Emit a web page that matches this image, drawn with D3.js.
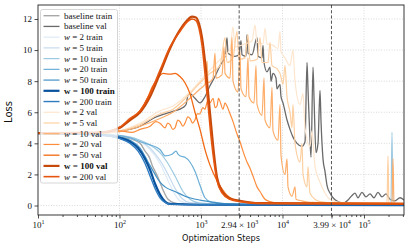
<!DOCTYPE html>
<html>
<head>
<meta charset="utf-8">
<script src="https://d3js.org/d3.v7.min.js"></script>
<style>
  body { margin: 0; background: #fff; }
  .tick text { font-family: "Liberation Serif", serif; font-size: 9px; fill: #111; }
  .tick line { stroke: #222; stroke-width: 0.8; }
  .domain { display: none; }
  .grid { stroke: #cfcfcf; stroke-width: 0.8; stroke-dasharray: 1,1.6; }
  .marker { stroke: #444; stroke-width: 0.9; stroke-dasharray: 3.2,2; }
  .series { fill: none; stroke-linejoin: round; stroke-linecap: round; }
  .legend text { font-family: "Liberation Serif", serif; font-size: 9px; fill: #111; }
  .axis-label { font-family: "DejaVu Sans", sans-serif; fill: #111; }
</style>
</head>
<body>
<script>
// [optimization step, loss] pairs
var baselineTrain = [[10,4.65],[58,4.6],[101,4.45],[135,4.3],[179,4.0],[206,3.5],[237,3.0],[251,2.6],[273,2.2],[297,1.8],[342,1.0],[394,0.4],[480,0.15],[636,0.08],[1000,0.06],[3000,0.05],[20000,0.04],[309600,0.04]];
var baselineVal = [[10,4.65],[58,4.65],[101,4.8],[179,5.1],[258,5.6],[362,5.9],[480,6.1],[601,6.3],[655,6.5],[693,7.1],[733,7.2],[843,6.9],[972,6.6],[1119,7.0],[1289,7.7],[1485,8.3],[1711,9.0],[1970,9.6],[2084,10.8],[2145,9.8],[2614,9.6],[2925,9.7],[3096,10.6],[3184,9.7],[3565,9.6],[3668,11.0],[3773,9.8],[4225,9.7],[4866,10.8],[5004,9.6],[5604,9.5],[5765,10.3],[5929,9.2],[6454,8.6],[7025,8.9],[7227,8.0],[7644,8.5],[8318,8.2],[8560,7.5],[9318,7.8],[9588,7.0],[10140,6.6],[11360,5.5],[12360,4.9],[13450,4.4],[15060,4.0],[17350,3.8],[18890,4.1],[19980,9.2],[20550,7.5],[21750,4.2],[22387,3.1],[23670,8.9],[24340,7.0],[25760,3.4],[27260,4.0],[28850,7.4],[29650,5.5],[31400,3.0],[33220,2.2],[35160,1.3],[38260,0.8],[41660,0.5],[47970,0.25],[55200,0.15],[63680,0.35],[71260,0.65],[77560,0.8],[84400,0.5],[94500,0.85],[105800,0.55],[118500,0.75],[132700,0.5],[148500,0.85],[166300,0.55],[186200,0.75],[208400,0.4],[240100,0.3],[276600,0.5],[309600,0.35]];

var w2Train = [[10,4.65],[58,4.6],[101,4.5],[135,4.35],[179,4.1],[237,3.6],[314,2.7],[394,1.6],[480,0.7],[552,0.3],[732,0.12],[1500,0.07],[309600,0.05]];
var w5Train = [[10,4.65],[58,4.6],[101,4.5],[135,4.4],[179,4.15],[237,3.7],[314,2.9],[394,2.0],[480,1.1],[585,0.45],[732,0.18],[1500,0.08],[309600,0.05]];
var w10Train = [[10,4.65],[58,4.6],[101,4.5],[135,4.4],[179,4.2],[237,3.9],[314,3.4],[383,2.8],[480,1.9],[601,0.9],[732,0.4],[972,0.15],[2000,0.08],[214000,0.06],[220600,4.7],[227000,0.06],[309600,0.05]];
var w20Train = [[10,4.65],[58,4.6],[101,4.5],[135,4.35],[179,4.1],[237,3.9],[314,3.6],[362,3.2],[441,3.3],[494,3.5],[522,3.3],[552,3.2],[636,3.1],[732,2.8],[843,2.2],[972,1.3],[1119,0.5],[1350,0.2],[2000,0.1],[309600,0.06]];
var w50Train = [[10,4.65],[58,4.55],[101,4.4],[135,4.2],[179,3.7],[224,2.8],[273,2.0],[314,1.5],[362,1.2],[480,0.9],[636,0.6],[972,0.35],[1485,0.2],[2269,0.1],[5000,0.06],[309600,0.05]];
var w100Train = [[10,4.65],[58,4.55],[101,4.35],[135,4.1],[169,3.7],[206,3.0],[237,2.3],[273,1.4],[314,0.7],[362,0.25],[417,0.1],[972,0.05],[309600,0.03]];
var w200Train = [[10,4.65],[58,4.55],[101,4.3],[135,4.0],[169,3.5],[206,2.7],[237,1.9],[273,1.1],[314,0.5],[362,0.2],[417,0.09],[1000,0.05],[309600,0.04]];

var w2Val = [[10,4.65],[58,4.65],[101,4.8],[179,5.3],[314,6.1],[453,6.4],[733,7.3],[972,8.0],[1289,8.7],[1711,9.4],[2269,10.0],[2470,11.5],[2614,10.2],[3466,10.4],[4225,10.6],[4599,11.6],[4866,10.5],[5765,10.4],[6100,11.4],[6454,10.4],[7644,10.3],[8806,10.1],[9318,11.2],[9590,9.9],[10730,9.5],[12360,9.0],[13450,10.0],[14240,8.0],[16400,6.5],[17850,7.2],[18890,5.0],[21750,3.8],[23010,4.8],[25050,2.5],[28850,1.5],[33220,0.8],[38260,0.4],[50760,0.2],[309600,0.12]];
var w5Val = [[10,4.65],[58,4.65],[101,4.8],[179,5.2],[314,5.9],[453,6.2],[733,7.2],[972,7.9],[1289,8.5],[1711,9.0],[1970,10.8],[2084,9.2],[2470,9.5],[2765,11.2],[2925,9.4],[3466,9.5],[3773,11.0],[3992,9.3],[4866,9.4],[5295,10.8],[5604,9.2],[6639,9.2],[7025,10.5],[7432,9.0],[8560,8.8],[9318,8.5],[10140,7.8],[10730,9.0],[11360,7.0],[12360,6.0],[13080,5.0],[13450,6.5],[14240,4.0],[16400,2.8],[17350,4.0],[17850,2.0],[19980,1.2],[20550,2.5],[21750,0.8],[25050,0.4],[28850,0.25],[50000,0.15],[191500,0.15],[197000,3.2],[202000,0.15],[309600,0.12]];
var w10Val = [[10,4.65],[58,4.65],[101,4.75],[179,5.1],[314,5.6],[453,6.0],[733,6.9],[972,7.5],[1119,7.8],[1185,9.3],[1219,7.9],[1404,8.2],[1485,9.8],[1528,8.2],[1810,8.4],[1916,10.2],[1970,8.5],[2269,8.2],[2402,10.8],[2470,8.0],[2844,7.3],[3009,9.9],[3096,7.5],[3566,7.0],[3773,9.5],[3882,7.0],[4470,6.6],[4729,9.0],[4866,6.5],[5604,5.8],[5930,8.2],[6100,5.5],[7025,5.0],[7432,7.6],[7644,4.8],[8806,4.2],[9318,6.5],[9590,3.2],[10730,2.0],[11360,3.0],[11680,1.2],[13080,0.6],[14240,1.2],[14640,0.4],[17350,0.3],[21750,0.2],[100000,0.15],[220600,0.15],[226900,3.0],[233300,0.15],[309600,0.12]];
var w20Val = [[10,4.65],[58,4.65],[101,4.8],[140,4.7],[179,4.9],[237,5.1],[280,5.4],[314,5.3],[362,5.0],[390,5.3],[417,5.2],[450,4.9],[480,5.0],[520,5.5],[552,5.4],[600,5.1],[636,5.3],[690,5.7],[733,5.6],[790,5.3],[843,5.5],[900,5.9],[972,5.9],[1050,6.3],[1119,6.2],[1200,6.7],[1289,6.6],[1404,6.9],[1490,6.3],[1572,6.4],[1640,6.9],[1711,6.7],[1862,6.2],[1970,6.6],[2084,6.4],[2269,5.9],[2470,5.4],[2765,4.6],[3009,4.1],[3275,3.5],[3668,2.8],[3992,2.4],[4345,1.9],[4866,1.2],[5296,0.9],[6100,0.4],[7025,0.25],[9318,0.15],[309600,0.12]];
var w50Val = [[10,4.65],[58,4.7],[101,5.0],[135,5.5],[179,6.1],[224,7.0],[251,7.6],[297,8.2],[342,8.5],[417,8.45],[480,8.5],[552,8.3],[636,7.9],[732,7.2],[843,6.0],[972,4.9],[1119,3.6],[1289,2.6],[1572,1.6],[1970,0.8],[2614,0.35],[4000,0.2],[10000,0.12],[309600,0.1]];
var w100Val = [[10,4.65],[58,4.7],[101,5.0],[135,5.5],[179,6.0],[237,7.0],[314,8.5],[417,10.1],[552,11.3],[673,11.9],[775,12.15],[868,12.1],[945,11.7],[1030,10.8],[1119,9.3],[1220,7.3],[1330,5.2],[1445,3.3],[1572,1.8],[1820,0.9],[2269,0.45],[3009,0.3],[5296,0.15],[309600,0.1]];
var w200Val = [[10,4.65],[58,4.7],[101,5.05],[135,5.6],[179,6.1],[237,7.2],[314,8.7],[417,10.2],[552,11.2],[673,11.8],[775,12.0],[868,11.9],[945,11.4],[1030,10.3],[1119,8.5],[1220,6.5],[1330,4.4],[1445,2.8],[1572,1.6],[1820,0.8],[2269,0.4],[3009,0.25],[5296,0.14],[309600,0.12]];

var yTicks = [0, 2, 4, 6, 8, 10, 12];
var xMajor = [10, 100, 1000, 10000, 100000];
var xMarked = [2940, 39900];

var series = [
  {name: "baseline train", data: baselineTrain, color: "#a8a8a8", width: 1.4},
  {name: "baseline val", data: baselineVal, color: "#6a6a6a", width: 1.3},
  {w: "2", kind: "train", data: w2Train, color: "#deebf7", width: 1.2},
  {w: "5", kind: "train", data: w5Train, color: "#c6dbef", width: 1.2},
  {w: "10", kind: "train", data: w10Train, color: "#9ecae1", width: 1.2},
  {w: "20", kind: "train", data: w20Train, color: "#6baed6", width: 1.2},
  {w: "50", kind: "train", data: w50Train, color: "#4292c6", width: 1.2},
  {w: "100", kind: "train", data: w100Train, color: "#08519c", width: 2.2, bold: true},
  {w: "200", kind: "train", data: w200Train, color: "#2f7bbf", width: 1.4},
  {w: "2", kind: "val", data: w2Val, color: "#fee6ce", width: 1.2},
  {w: "5", kind: "val", data: w5Val, color: "#fdd0a2", width: 1.2},
  {w: "10", kind: "val", data: w10Val, color: "#fdae6b", width: 1.2},
  {w: "20", kind: "val", data: w20Val, color: "#fd8d3c", width: 1.2},
  {w: "50", kind: "val", data: w50Val, color: "#f16913", width: 1.3},
  {w: "100", kind: "val", data: w100Val, color: "#c4490b", width: 2.2, bold: true},
  {w: "200", kind: "val", data: w200Val, color: "#e6550d", width: 1.6}
];

var W = 411, H = 250;
var plotL = 38, plotR = 404, plotT = 5, plotB = 215;

var x = d3.scaleLog().domain([10, 309600]).range([plotL, plotR]);
var y = d3.scaleLinear().domain([-0.61, 12.9]).range([plotB, plotT]);

var svg = d3.select("body").append("svg")
  .attr("width", W).attr("height", H);

svg.append("defs").append("clipPath").attr("id", "plot")
  .append("rect").attr("x", plotL).attr("y", plotT)
  .attr("width", plotR - plotL).attr("height", plotB - plotT);

// grid
svg.append("g").selectAll("line").data(yTicks).join("line")
  .attr("class", "grid")
  .attr("x1", plotL).attr("x2", plotR)
  .attr("y1", d => y(d)).attr("y2", d => y(d));
svg.append("g").selectAll("line").data(xMajor.slice(1)).join("line")
  .attr("class", "grid")
  .attr("x1", d => x(d)).attr("x2", d => x(d))
  .attr("y1", plotT).attr("y2", plotB);

// lines
var line = d3.line()
  .x(d => x(d[0]))
  .y(d => y(d[1]))
  .curve(d3.curveMonotoneX);

svg.append("g").attr("clip-path", "url(#plot)")
  .selectAll("path").data(series).join("path")
  .attr("class", "series")
  .attr("stroke", d => d.color)
  .attr("stroke-width", d => d.width)
  .attr("d", d => line(d.data));

// marked steps
svg.append("g").selectAll("line").data(xMarked).join("line")
  .attr("class", "marker")
  .attr("x1", d => x(d)).attr("x2", d => x(d))
  .attr("y1", plotT).attr("y2", plotB);

// frame
svg.append("rect")
  .attr("x", plotL).attr("y", plotT)
  .attr("width", plotR - plotL).attr("height", plotB - plotT)
  .attr("fill", "none").attr("stroke", "#222").attr("stroke-width", 0.9);

// x axis: minor ticks
var minor = [];
for (var e = 1; e <= 5; e++) {
  for (var m = 2; m <= 9; m++) {
    var v = m * Math.pow(10, e);
    if (v < 309600) minor.push(v);
  }
}
svg.append("g").attr("transform", "translate(0," + plotB + ")")
  .call(d3.axisBottom(x).tickValues(minor).tickSize(2).tickFormat(""));

var xAxis = svg.append("g").attr("transform", "translate(0," + plotB + ")")
  .call(d3.axisBottom(x).tickValues(xMajor.concat(xMarked)).tickSize(3.5).tickPadding(3).tickFormat(""));

xAxis.selectAll(".tick text").each(function (d) {
  var t = d3.select(this);
  var exp = Math.floor(Math.log10(d) + 1e-9);
  var mant = d / Math.pow(10, exp);
  if (Math.abs(mant - 1) > 1e-6) {
    t.append("tspan").text(mant.toFixed(2) + " \u00d7 10");
  } else {
    t.append("tspan").text("10");
  }
  t.append("tspan").attr("font-size", "6px").attr("dy", "-3.5").text(exp);
});

// y axis
svg.append("g").attr("transform", "translate(" + plotL + ",0)")
  .call(d3.axisLeft(y).tickValues(yTicks).tickSize(3.5).tickPadding(2.5));

// axis labels
svg.append("text").attr("class", "axis-label")
  .attr("x", 221).attr("y", 241)
  .attr("text-anchor", "middle").attr("font-size", "8.2px")
  .text("Optimization Steps");
svg.append("text").attr("class", "axis-label")
  .attr("transform", "translate(12," + 112 + ") rotate(-90)")
  .attr("text-anchor", "middle").attr("font-size", "10px")
  .text("Loss");

// legend
var lg = svg.append("g").attr("class", "legend");
lg.append("rect")
  .attr("x", 40.5).attr("y", 9.5).attr("width", 77).attr("height", 173.5)
  .attr("rx", 2).attr("fill", "#fff").attr("fill-opacity", 0.8)
  .attr("stroke", "#cccccc").attr("stroke-width", 0.8);

var rows = lg.selectAll("g.row").data(series).join("g")
  .attr("class", "row")
  .attr("transform", (d, i) => "translate(0," + (15.7 + i * 10.73) + ")");

rows.append("line")
  .attr("x1", 43.5).attr("x2", 59.5)
  .attr("stroke", d => d.color)
  .attr("stroke-width", d => d.width);

rows.append("text")
  .attr("x", 64).attr("dy", "0.33em")
  .each(function (d) {
    var t = d3.select(this);
    if (d.name) { t.text(d.name); return; }
    if (d.bold) {
      t.attr("font-weight", "bold").text("w = " + d.w + " " + d.kind);
      return;
    }
    t.append("tspan").attr("font-style", "italic").text("w");
    t.append("tspan").text(" = " + d.w + " " + d.kind);
  });
</script>
</body>
</html>
